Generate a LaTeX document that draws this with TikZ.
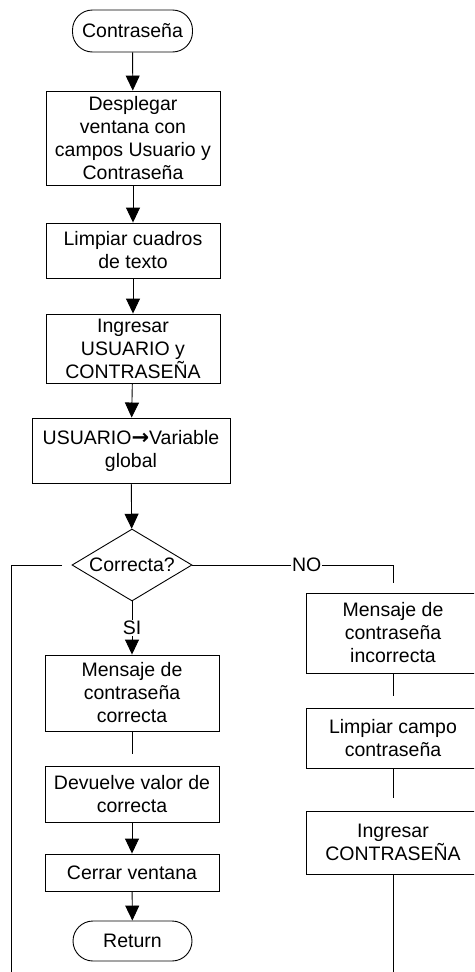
\documentclass[tikz,border=0pt]{standalone}
\usepackage{fontspec}
\setmainfont{Liberation Sans}
\newfontfamily\arrfont{DejaVu Sans}
\usetikzlibrary{shapes.geometric,arrows.meta}
\begin{document}
\begin{tikzpicture}[x=1pt,y=-1pt,
  every node/.style={font=\fontsize{19.5}{23}\selectfont, align=center, inner sep=0pt},
  proc/.style={draw, line width=0.9pt, rectangle},
  term/.style={draw, line width=0.9pt, rectangle, rounded corners=20pt},
  dec/.style={draw, line width=0.9pt, diamond, aspect=1.67},
  lbl/.style={fill=white, inner sep=1pt},
  conn/.style={line width=0.9pt},
  arr/.style={line width=0.9pt, -{Triangle[length=15pt,width=14pt]}}
]
\clip (0,0) rectangle (474,972);
\node[term, minimum width=120pt, minimum height=42pt] (start) at (132.5,31) {Contrase\~na};
\node[proc, minimum width=174pt, minimum height=94pt] (b1) at (133,138) {Desplegar\\ventana con\\campos Usuario y\\Contrase\~na};
\node[proc, minimum width=174pt, minimum height=55pt] (b2) at (133,250.5) {Limpiar cuadros\\de texto};
\node[proc, minimum width=174pt, minimum height=69pt] (b3) at (133,348.5) {Ingresar\\USUARIO y\\CONTRASE\~NA};
\node[proc, minimum width=198pt, minimum height=65pt] (b4) at (131,450.5) {USUARIO{\arrfont\bfseries\fontsize{21}{23}\selectfont→}Variable\\global};
\node[dec, minimum width=120pt, minimum height=72pt] (d) at (132,565) {Correcta?};
\node[proc, minimum width=174pt, minimum height=76pt] (b5) at (132,693) {Mensaje de\\contrase\~na\\correcta};
\node[proc, minimum width=174pt, minimum height=56pt] (b6) at (132,794) {Devuelve valor de\\correcta};
\node[proc, minimum width=174pt, minimum height=37pt] (b7) at (132,872.5) {Cerrar ventana};
\node[term, minimum width=119pt, minimum height=40pt] (ret) at (132.5,941) {Return};
\node[proc, minimum width=174pt, minimum height=80pt] (r1) at (393,633) {Mensaje de\\contrase\~na\\incorrecta};
\node[proc, minimum width=174pt, minimum height=60pt] (r2) at (393,738) {Limpiar campo\\contrase\~na};
\node[proc, minimum width=174pt, minimum height=63pt] (r3) at (393,842.5) {Ingresar\\CONTRASE\~NA};
\coordinate (lstart) at (62,565);
\coordinate (lcorner) at (11.5,565);
\coordinate (lend) at (11.5,980);
\coordinate (rcorner) at (393,565);
\coordinate (rend) at (393,583);
\coordinate (b5end) at (132,754);
\coordinate (r1end) at (393,696);
\coordinate (r2end) at (393,798);
\coordinate (r3end) at (393,980);
\draw[arr] (start) -- (b1);
\draw[arr] (b1) -- (b2);
\draw[arr] (b2) -- (b3);
\draw[arr] (b3) -- (b4);
\draw[arr] (b4) -- (d);
\draw[arr] (d) -- node[lbl, pos=0.5] {SI} (b5);
\draw[conn] (b5) -- (b5end);
\draw[arr] (b6) -- (b7);
\draw[arr] (b7) -- (ret);
\draw[conn] (lstart) -- (lcorner) -- (lend);
\draw[conn] (d.east) -- node[lbl, pos=0.57] {NO} (rcorner) -- (rend);
\draw[conn] (r1) -- (r1end);
\draw[conn] (r2) -- (r2end);
\draw[conn] (r3) -- (r3end);
\end{tikzpicture}
\end{document}
